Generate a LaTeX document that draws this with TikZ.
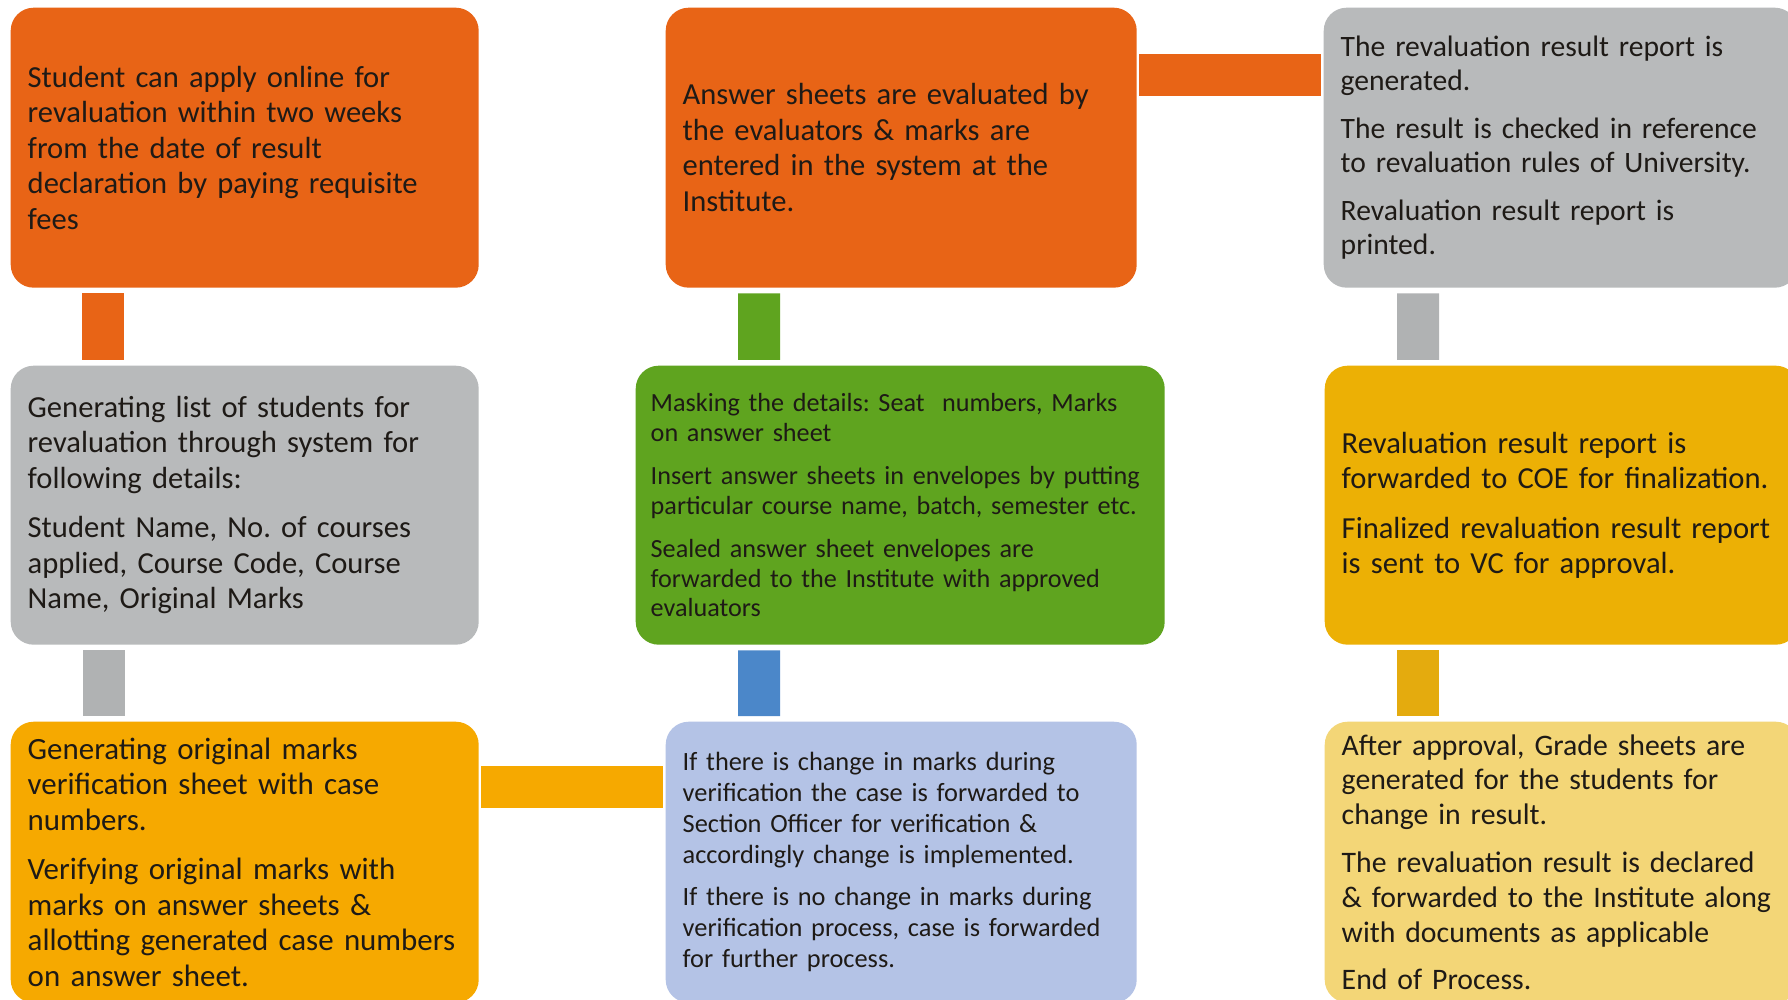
\documentclass[tikz,border=0pt]{standalone}
\usepackage{fontspec}
\setmainfont{Carlito}
\usepackage{xcolor}
\definecolor{reorange}{HTML}{E86416}
\definecolor{regray}{HTML}{B8BABB}
\definecolor{regrayline}{HTML}{B0B2B3}
\definecolor{reamber}{HTML}{F6A900}
\definecolor{regold}{HTML}{ECB005}
\definecolor{regoldline}{HTML}{E4AB0E}
\definecolor{recream}{HTML}{F3D677}
\definecolor{regreen}{HTML}{5FA41F}
\definecolor{relilac}{HTML}{B4C3E6}
\definecolor{reblue}{HTML}{4B87C9}
\definecolor{retext}{HTML}{1E1A16}
\frenchspacing
\hyphenpenalty=10000
\exhyphenpenalty=10000
\tikzset{stepbox/.style={rounded corners=0.23cm,anchor=north west,align=left,
        inner xsep=0.17cm,inner ysep=0pt,text=retext,
        font=\fontsize{8.7}{10.1}\selectfont},
    smallbox/.style={stepbox,inner xsep=0.15cm,font=\fontsize{7.45}{8.45}\selectfont},
    vlink/.style={line width=0.42cm,shorten <=0.05cm,shorten >=0.05cm},
    hlink/.style={line width=0.42cm,shorten <=0.02cm,shorten >=0.02cm}}

\begin{document}
\begin{tikzpicture}
\useasboundingbox[fill=white] (0,0) rectangle (17.88,-10);
% first column
\node[stepbox,fill=reorange,minimum width=4.68cm,minimum height=2.80cm,text width=4.34cm]
    (apply) at (0.10,-0.07)
    {Student can apply online for\\ revaluation within two weeks\\ from the date of result\\
     declaration by paying requisite\\ fees};
\node[stepbox,fill=regray,minimum width=4.68cm,minimum height=2.79cm,text width=4.34cm]
    (list) at (0.10,-3.65)
    {Generating list of students for\\ revaluation through system for\\ following details:\\[4pt]
     Student Name, No. of courses\\ applied, Course Code, Course\\ Name, Original Marks};
\node[stepbox,font=\fontsize{8.8}{10.1}\selectfont,fill=reamber,minimum width=4.68cm,
    minimum height=2.81cm,text width=4.34cm]
    (verify) at (0.10,-7.21)
    {Generating original marks\\ verification sheet with case\\ numbers.\\[4pt]
     Verifying original marks with\\ marks on answer sheets \&\\ allotting generated case numbers\\
     on answer sheet.};
% second column
\node[stepbox,font=\fontsize{7.5}{8.8}\selectfont,fill=relilac,minimum width=4.71cm,
    minimum height=2.81cm,text width=4.37cm]
    (change) at (6.65,-7.21)
    {If there is change in marks during\\ verification the case is forwarded to\\
     Section Officer for verification \&\\ accordingly change is implemented.\\[3.2pt]
     If there is no change in marks during\\ verification process, case is forwarded\\
     for further process.};
\node[smallbox,fill=regreen,minimum width=5.29cm,minimum height=2.79cm,text width=4.99cm]
    (mask) at (6.35,-3.65)
    {Masking the details: Seat\ \ numbers, Marks\\ on answer sheet\\[3.9pt]
     Insert answer sheets in envelopes by putting\\ particular course name, batch, semester etc.\\[3.9pt]
     Sealed answer sheet envelopes are\\ forwarded to the Institute with approved\\ evaluators};
\node[stepbox,fill=reorange,minimum width=4.71cm,minimum height=2.80cm,text width=4.37cm]
    (evaluate) at (6.65,-0.07)
    {Answer sheets are evaluated by\\ the evaluators \& marks are\\ entered in the system at the\\ Institute.};
% third column
\node[stepbox,font=\fontsize{8.42}{9.75}\selectfont,fill=regray,minimum width=4.74cm,
    minimum height=2.80cm,text width=4.40cm]
    (report) at (13.23,-0.07)
    {The revaluation result report is\\ generated.\\[3.9pt]
     The result is checked in reference\\ to revaluation rules of University.\\[3.9pt]
     Revaluation result report is\\ printed.};
\node[stepbox,fill=regold,minimum width=4.74cm,minimum height=2.79cm,text width=4.40cm]
    (finalize) at (13.24,-3.65)
    {Revaluation result report is\\ forwarded to COE for finalization.\\[4pt]
     Finalized revaluation result report\\ is sent to VC for approval.};
\node[stepbox,font=\fontsize{8.47}{9.9}\selectfont,fill=recream,minimum width=4.74cm,
    minimum height=2.81cm,text width=4.40cm]
    (declare) at (13.24,-7.21)
    {After approval, Grade sheets are\\ generated for the students for\\ change in result.\\[3.7pt]
     The revaluation result is declared\\ \& forwarded to the Institute along\\
     with documents as applicable\\[3.7pt]
     End of Process.};
% links
\draw[vlink,reorange] ([xshift=0.93cm]apply.south west) -- ([xshift=0.93cm]list.north west);
\draw[vlink,regrayline] ([xshift=0.94cm]list.south west) -- ([xshift=0.94cm]verify.north west);
\draw[hlink,reamber] ([yshift=-0.66cm]verify.north east) -- ([yshift=-0.66cm]change.north west);
\draw[vlink,reblue] ([xshift=0.94cm]change.north west) -- ([xshift=1.24cm]mask.south west);
\draw[vlink,regreen] ([xshift=1.24cm]mask.north west) -- ([xshift=0.94cm]evaluate.south west);
\draw[hlink,reorange] ([yshift=-0.68cm]evaluate.north east) -- ([yshift=-0.68cm]report.north west);
\draw[vlink,regrayline] ([xshift=0.95cm]report.south west) -- ([xshift=0.94cm]finalize.north west);
\draw[vlink,regoldline] ([xshift=0.94cm]finalize.south west) -- ([xshift=0.94cm]declare.north west);
\end{tikzpicture}
\end{document}
